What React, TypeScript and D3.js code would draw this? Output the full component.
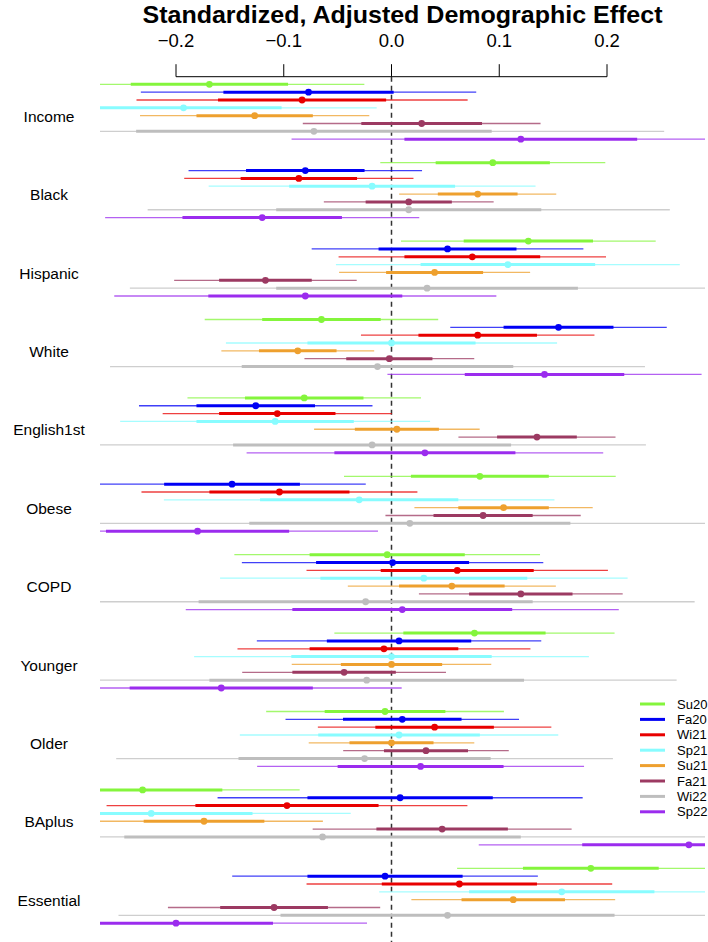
import React from "react";
import * as d3 from "d3";

const categories = ["Income", "Black", "Hispanic", "White", "English1st", "Obese", "COPD", "Younger", "Older", "BAplus", "Essential"];
const seriesNames = ["Su20", "Fa20", "Wi21", "Sp21", "Su21", "Fa21", "Wi22", "Sp22"];
const seriesColors = ["#84F53C", "#0000F5", "#E80000", "#88FCFF", "#EEA02E", "#9C3A62", "#BEBEBE", "#9B2CEE"];
const xTicks = [-0.2, -0.1, 0.0, 0.1, 0.2];

// point estimates, one array per term, ordered Su20..Sp22
const estIncome = [-0.169, -0.077, -0.083, -0.193, -0.127, 0.028, -0.072, 0.120];
const estBlack = [0.094, -0.080, -0.086, -0.018, 0.080, 0.016, 0.016, -0.120];
const estHispanic = [0.127, 0.052, 0.075, 0.108, 0.040, -0.117, 0.033, -0.080];
const estWhite = [-0.065, 0.155, 0.080, 0.000, -0.087, -0.002, -0.013, 0.142];
const estEnglish1st = [-0.081, -0.126, -0.106, -0.108, 0.005, 0.135, -0.018, 0.031];
const estObese = [0.082, -0.148, -0.104, -0.030, 0.104, 0.085, 0.017, -0.180];
const estCOPD = [-0.004, 0.001, 0.061, 0.030, 0.056, 0.120, -0.024, 0.010];
const estYounger = [0.077, 0.007, -0.007, 0.000, 0.000, -0.044, -0.023, -0.158];
const estOlder = [-0.006, 0.010, 0.040, 0.007, 0.000, 0.032, -0.025, 0.027];
const estBAplus = [-0.231, 0.008, -0.097, -0.223, -0.174, 0.047, -0.064, 0.276];
const estEssential = [0.185, -0.006, 0.063, 0.158, 0.113, -0.109, 0.052, -0.200];

// standard errors (thick bar = ±1 SE, thin bar = ±2 SE)
const seIncome = [0.073, 0.079, 0.078, 0.091, 0.054, 0.056, 0.165, 0.108];
const seBlack = [0.053, 0.055, 0.054, 0.077, 0.037, 0.040, 0.123, 0.074];
const seHispanic = [0.060, 0.064, 0.063, 0.081, 0.045, 0.043, 0.140, 0.090];
const seWhite = [0.055, 0.051, 0.055, 0.078, 0.036, 0.040, 0.126, 0.074];
const seEnglish1st = [0.055, 0.055, 0.054, 0.073, 0.039, 0.037, 0.129, 0.084];
const seObese = [0.064, 0.063, 0.065, 0.092, 0.042, 0.046, 0.149, 0.085];
const seCOPD = [0.072, 0.071, 0.071, 0.096, 0.049, 0.048, 0.155, 0.102];
const seYounger = [0.066, 0.067, 0.069, 0.093, 0.047, 0.048, 0.146, 0.085];
const seOlder = [0.056, 0.055, 0.055, 0.075, 0.039, 0.039, 0.117, 0.077];
const seBAplus = [0.074, 0.086, 0.085, 0.094, 0.056, 0.061, 0.184, 0.099];
const seEssential = [0.063, 0.072, 0.072, 0.086, 0.048, 0.050, 0.155, 0.090];

const estTable = [estIncome, estBlack, estHispanic, estWhite, estEnglish1st, estObese, estCOPD, estYounger, estOlder, estBAplus, estEssential];
const seTable = [seIncome, seBlack, seHispanic, seWhite, seEnglish1st, seObese, seCOPD, seYounger, seOlder, seBAplus, seEssential];

const W = 708;
const H = 942;

export default function App() {
  const x = d3.scaleLinear().domain([-0.2, 0.2]).range([176, 607]);
  const plotLeft = 100;
  const plotRight = 705;
  const rowStep = 7.84;
  const yGroup = d3.scaleLinear().domain([0, categories.length - 1]).range([84.3, 84.3 + 10 * 10 * rowStep]);
  const yRow = (g: number, i: number) => yGroup(g) + i * rowStep;
  const axisY = 76.7;

  return (
    <svg width={W} height={H} style={{ position: "absolute", left: 0, top: 0, background: "#fff" }}
      fontFamily="'Liberation Sans', Arial, Helvetica, sans-serif">
      <defs>
        <clipPath id="plotclip">
          <rect x={plotLeft} y={axisY} width={plotRight - plotLeft} height={H - axisY} />
        </clipPath>
      </defs>
      <text x={(plotLeft + plotRight) / 2} y={23} textAnchor="middle" fontWeight="bold" fontSize={24}
        textLength={520} lengthAdjust="spacingAndGlyphs">
        Standardized, Adjusted Demographic Effect
      </text>
      {/* top axis */}
      <line x1={x(-0.2)} x2={x(0.2)} y1={axisY} y2={axisY} stroke="#000" strokeWidth={1} />
      {xTicks.map((t) => (
        <g key={t}>
          <line x1={x(t)} x2={x(t)} y1={axisY} y2={axisY - 12.5} stroke="#000" strokeWidth={1} />
          <text x={x(t)} y={47} textAnchor="middle" fontSize={18.5}>
            {d3.format(".1f")(t).replace("-", "\u2212")}
          </text>
        </g>
      ))}
      <g clipPath="url(#plotclip)">
        <line x1={x(0)} x2={x(0)} y1={axisY} y2={H} stroke="#333" strokeWidth={1.5} strokeDasharray="5,4" />
        {categories.map((c, g) =>
          seriesNames.map((s, i) => {
            const est = estTable[g][i];
            const se = seTable[g][i];
            const y = yRow(g, i);
            const col = seriesColors[i];
            return (
              <g key={c + s}>
                <line x1={x(est - 1.97 * se)} x2={x(est + 1.97 * se)} y1={y} y2={y} stroke={col} strokeWidth={1.3} strokeOpacity={0.75} />
                <line x1={x(est - se)} x2={x(est + se)} y1={y} y2={y} stroke={col} strokeWidth={3} />
                <circle cx={x(est)} cy={y} r={3.4} fill={col} />
              </g>
            );
          })
        )}
      </g>
      {categories.map((c, g) => (
        <text key={c} x={49} y={yGroup(g) + 3.5 * rowStep + 10} textAnchor="middle" fontSize={15.5}>
          {c}
        </text>
      ))}
      {/* legend */}
      {seriesNames.map((s, i) => (
        <g key={s}>
          <line x1={640} x2={665} y1={704 + i * 15.4} y2={704 + i * 15.4} stroke={seriesColors[i]} strokeWidth={3} />
          <text x={677} y={704 + i * 15.4 + 4.5} fontSize={13}>{s}</text>
        </g>
      ))}
    </svg>
  );
}
